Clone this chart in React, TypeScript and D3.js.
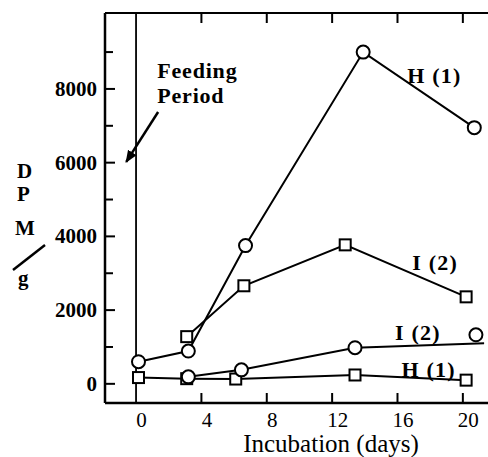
import React from "react";
import * as d3 from "d3";

// values: [day, DPM/g]
const circleH1 = [[0.15, 600], [3.2, 890], [6.7, 3750], [13.9, 9000], [20.7, 6950]];
const squareI2 = [[3.1, 1280], [6.6, 2660], [12.8, 3770], [20.2, 2360]];
const circleI2 = [[3.2, 190], [6.45, 380], [13.4, 980]];
const circleI2End = [21.3, 1100];
const circleI2Extra = [20.8, 1330];
const squareH1 = [[0.15, 170], [3.1, 140], [6.1, 130], [13.4, 240], [20.2, 100]];

const xTicks = [0, 4, 8, 12, 16, 20];
const yMajor = [0, 2000, 4000, 6000, 8000];
const yMinor = [1000, 3000, 5000, 7000, 9000];

// series labels [day, value, text]
const seriesLabels = [
  [16.6, 8160, "H (1)"],
  [16.9, 3087, "I (2)"],
  [15.85, 1190, "I (2)"],
  [16.25, 185, "H (1)"],
];

const W = 488;
const H = 457;
const left = 105;
const top = 13;
const bottom = 403;

const serif = "Liberation Serif, DejaVu Serif, Times New Roman, serif";

export default function App() {
  const x = d3.scaleLinear().domain([-1.9, 21.6]).range([left, 489]);
  const y = d3.scaleLinear().domain([-520, 10060]).range([bottom, top]);
  const line = d3
    .line<number[]>()
    .x((d) => x(d[0]))
    .y((d) => y(d[1]));

  const circle = (d: number[], i: number | string) => (
    <circle key={"c" + i} cx={x(d[0])} cy={y(d[1])} r={6.5} fill="white" stroke="black" strokeWidth={2} />
  );
  const square = (d: number[], i: number) => (
    <rect key={"s" + i} x={x(d[0]) - 5.5} y={y(d[1]) - 5.5} width={11} height={11} fill="white" stroke="black" strokeWidth={2} />
  );

  const arrowFrom = [1.35, 7375];
  const arrowTo = [-0.6, 6020];

  return (
    <svg width={W} height={H} style={{ position: "absolute", left: 0, top: 0, background: "white", fontFamily: serif }}>
      <defs>
        <marker id="arrow" viewBox="0 0 10 10" refX={9} refY={5} markerWidth={5} markerHeight={5} orient="auto">
          <path d="M0,1 L10,5 L0,9 Z" fill="black" />
        </marker>
      </defs>

      {/* frame */}
      <line x1={left} x2={W} y1={top} y2={top} stroke="black" strokeWidth={2} />
      <line x1={left} x2={W} y1={bottom} y2={bottom} stroke="black" strokeWidth={2.5} />
      <line x1={left} x2={left} y1={top} y2={bottom} stroke="black" strokeWidth={2.5} />

      {/* feeding period line */}
      <line x1={x(0)} x2={x(0)} y1={top} y2={bottom} stroke="black" strokeWidth={1.8} />

      {/* x ticks */}
      {xTicks.filter((t) => t > 0).map((t) => (
        <g key={"xt" + t}>
          <line x1={x(t)} x2={x(t)} y1={bottom} y2={bottom - 10} stroke="black" strokeWidth={2} />
          <line x1={x(t)} x2={x(t)} y1={top} y2={top + 10} stroke="black" strokeWidth={2} />
        </g>
      ))}
      {xTicks.map((t) => (
        <text key={"xl" + t} x={x(t) + 5.5} y={427} textAnchor="middle" fontSize={21}>
          {t}
        </text>
      ))}
      <text x={331} y={452} textAnchor="middle" fontSize={25}>
        Incubation (days)
      </text>

      {/* y ticks */}
      {yMajor.map((t) => (
        <g key={"ym" + t}>
          <line x1={left} x2={left + 10} y1={y(t)} y2={y(t)} stroke="black" strokeWidth={2} />
          <text x={97} y={y(t) + 7} textAnchor="end" fontSize={21} fontWeight="bold">
            {t}
          </text>
        </g>
      ))}
      {yMinor.map((t) => (
        <line key={"yn" + t} x1={left} x2={left + 8} y1={y(t)} y2={y(t)} stroke="black" strokeWidth={2} />
      ))}

      {/* y axis label */}
      <g fontSize={21} fontWeight="bold">
        <text x={17} y={178}>D</text>
        <text x={17} y={201}>P</text>
        <text x={15} y={235}>M</text>
        <text x={18} y={285}>g</text>
      </g>
      <line x1={13} y1={270} x2={45} y2={245} stroke="black" strokeWidth={2.5} />

      {/* feeding period annotation */}
      <g fontSize={22} fontWeight="bold" letterSpacing={0.8}>
        <text x={x(1.3)} y={y(8295)}>Feeding</text>
        <text x={x(1.3)} y={y(7617)}>Period</text>
      </g>
      <line
        x1={x(arrowFrom[0])}
        y1={y(arrowFrom[1])}
        x2={x(arrowTo[0])}
        y2={y(arrowTo[1])}
        stroke="black"
        strokeWidth={2.5}
        markerEnd="url(#arrow)"
      />

      {/* series lines */}
      <g fill="none" stroke="black" strokeWidth={2}>
        <path d={line(circleH1) || ""} />
        <path d={line(squareI2) || ""} />
        <path d={line([...circleI2, circleI2End]) || ""} />
        <path d={line(squareH1) || ""} />
      </g>

      {/* markers */}
      {squareI2.map(square)}
      {squareH1.map(square)}
      {circleH1.map(circle)}
      {circleI2.map((d, i) => circle(d, "l" + i))}
      {circle(circleI2Extra, "extra")}

      {/* series labels */}
      {seriesLabels.map((d, i) => (
        <text key={"sl" + i} x={x(d[0] as number)} y={y(d[1] as number)} fontSize={22} fontWeight="bold" letterSpacing={1.2}>
          {d[2]}
        </text>
      ))}
    </svg>
  );
}
